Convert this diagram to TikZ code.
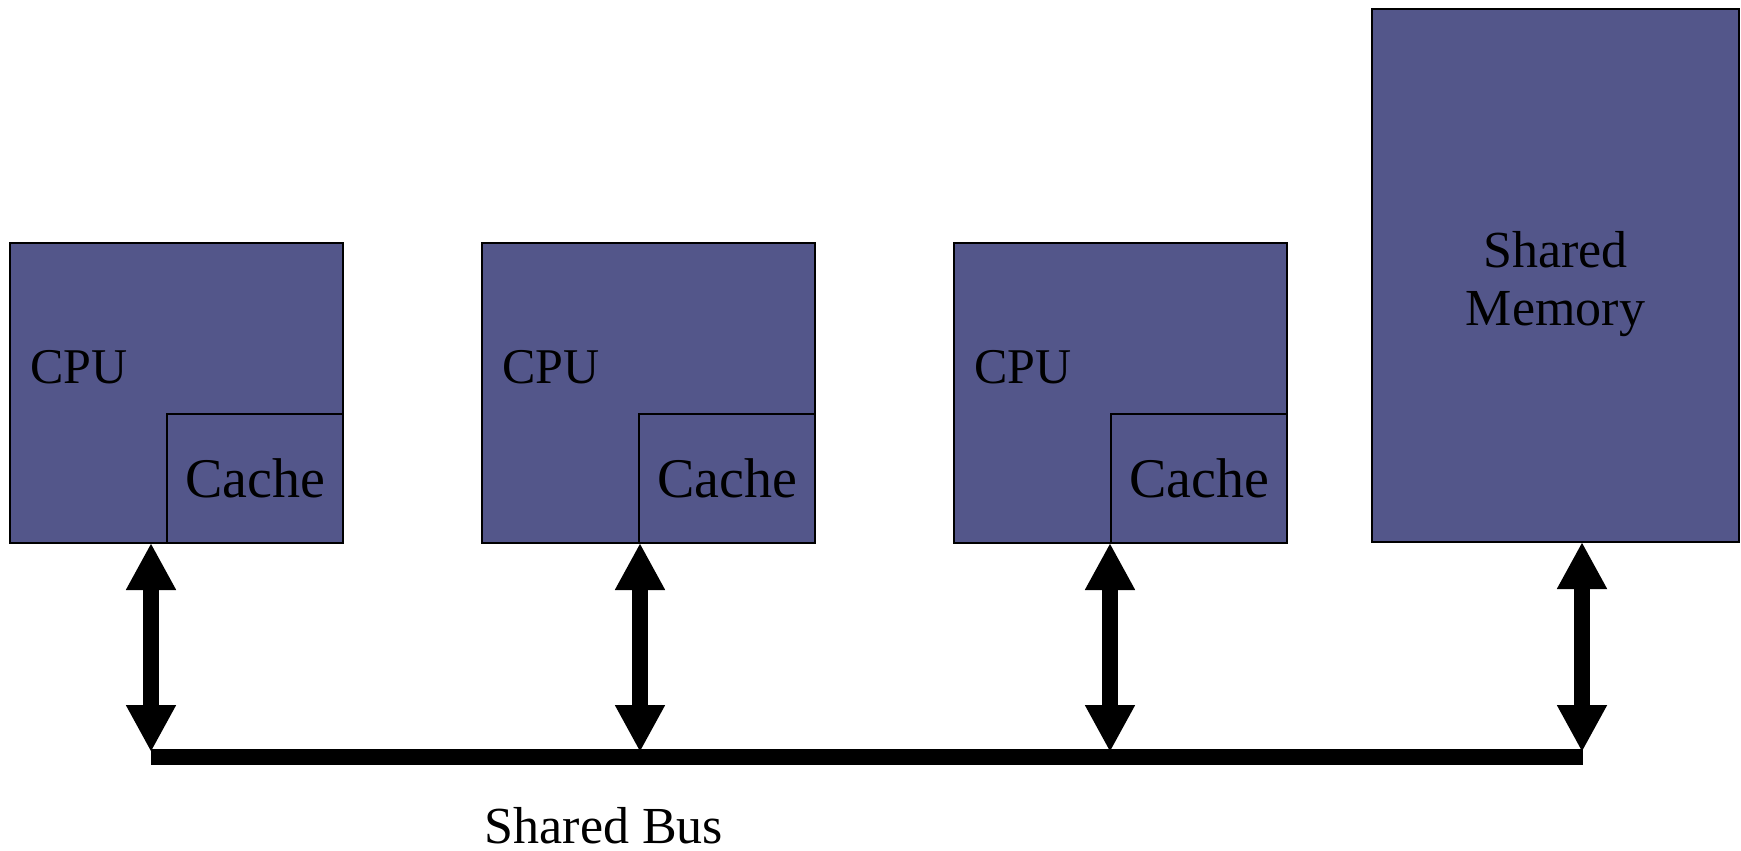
\documentclass[tikz,border=0pt]{standalone}
\usepackage{fontspec}
\setmainfont{Liberation Serif}
\usetikzlibrary{arrows.meta}
\definecolor{boxfill}{RGB}{83,86,138}
\tikzset{
  unitbox/.style={draw=black, line width=1.25pt, fill=boxfill, inner sep=0pt, outer sep=0pt},
  cpubox/.style={unitbox, minimum width=166.5pt, minimum height=150pt, anchor=north west},
  cachebox/.style={unitbox, minimum width=88pt, minimum height=64.5pt, anchor=south east,
    font=\fontsize{28}{33}\selectfont},
  cpulabel/.style={anchor=base west, inner sep=0pt, font=\fontsize{25}{30}\selectfont},
  link/.style={line width=8pt, {Triangle[length=23.5pt,width=23.5pt]}-{Triangle[length=23.5pt,width=23.5pt]}},
  busline/.style={line width=8pt, line cap=butt}
}
\begin{document}
\begin{tikzpicture}[x=0.5pt, y=-0.5pt]
  \useasboundingbox (0,0) rectangle (1741,851);

  % processors with their caches
  \node[cpubox] (cpu1) at (10,243) {};
  \node[cpubox] (cpu2) at (482,243) {};
  \node[cpubox] (cpu3) at (954,243) {};
  \foreach \i in {1,2,3} {
    \node[cachebox] (cache\i) at (cpu\i.south east) {Cache};
    \node[cpulabel] (cpulab\i) at ([xshift=10pt,yshift=-70pt]cpu\i.north west) {CPU};
  }

  % memory
  \node[unitbox, minimum width=183.5pt, minimum height=266.5pt, anchor=north west] (mem) at (1372,9) {};
  \node[align=center, inner sep=0pt, font=\fontsize{26}{29}\selectfont]
    (memlabel) at ([yshift=-4.5pt]mem.center) {Shared\\Memory};

  % bus
  \coordinate (bus1) at (151,757);
  \coordinate (bus2) at (640,757);
  \coordinate (bus3) at (1110,757);
  \coordinate (bus4) at (1582,757);
  \draw[busline] (bus1) -- ([xshift=0.5pt]bus4);

  \draw[link] (bus1 |- cpu1.south) -- ([yshift=2.5pt]bus1);
  \draw[link] (bus2 |- cpu2.south) -- ([yshift=2.5pt]bus2);
  \draw[link] (bus3 |- cpu3.south) -- ([yshift=2.5pt]bus3);
  \draw[link] (bus4 |- mem.south) -- ([yshift=2.5pt]bus4);

  \node[anchor=base, inner sep=0pt, font=\fontsize{26}{31}\selectfont] (buslabel) at (604,843) {Shared Bus};
\end{tikzpicture}
\end{document}
